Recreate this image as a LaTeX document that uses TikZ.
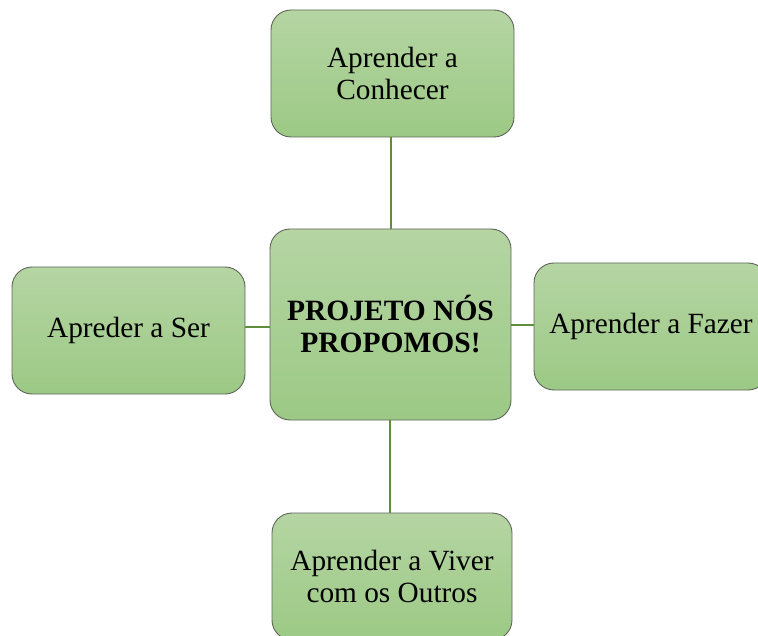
\documentclass[tikz,border=0pt]{standalone}
\usepackage{fontspec}
\setmainfont{Liberation Serif}
\definecolor{boxtop}{HTML}{B5D5A3}
\definecolor{boxbot}{HTML}{9CC985}
\definecolor{boxline}{HTML}{5E645A}
\definecolor{linkcol}{HTML}{5F8E3C}
\begin{document}
\begin{tikzpicture}[x=1pt,y=-1pt,
  greenbox/.style={draw=boxline, line width=0.9pt, rounded corners=20pt,
    top color=boxtop, bottom color=boxbot, align=center, inner sep=0pt,
    font=\fontsize{29.3}{31.5}\selectfont},
  link/.style={draw=linkcol, line width=1.4pt}]
\useasboundingbox (0,0) rectangle (758,636);
\begin{scope}
\clip (0,0) rectangle (758,636);
\node[greenbox, minimum width=243pt, minimum height=127pt] (top) at (392.5,73.5) {Aprender a\\Conhecer};
\node[greenbox, minimum width=241pt, minimum height=191pt, font=\bfseries\fontsize{29.5}{32}\selectfont] (mid) at (390.5,324.5) {PROJETO NÓS\\PROPOMOS!};
\node[greenbox, minimum width=233pt, minimum height=127pt] (left) at (128.5,330.5) {Apreder a Ser};
\node[greenbox, minimum width=234pt, minimum height=127pt] (right) at (651,326.5) {Aprender a Fazer};
\node[greenbox, minimum width=240pt, minimum height=127pt] (bot) at (392,576.5) {Aprender a Viver\\com os Outros};
\end{scope}
\draw[link] (top.south -| 391,0) -- (mid.north -| 391,0);
\draw[link] (mid.south -| 390,0) -- (bot.north -| 390,0);
\draw[link] (left.east |- 0,327) -- (mid.west |- 0,327);
\draw[link] (mid.east |- 0,325) -- (right.west |- 0,325);
\end{tikzpicture}
\end{document}
